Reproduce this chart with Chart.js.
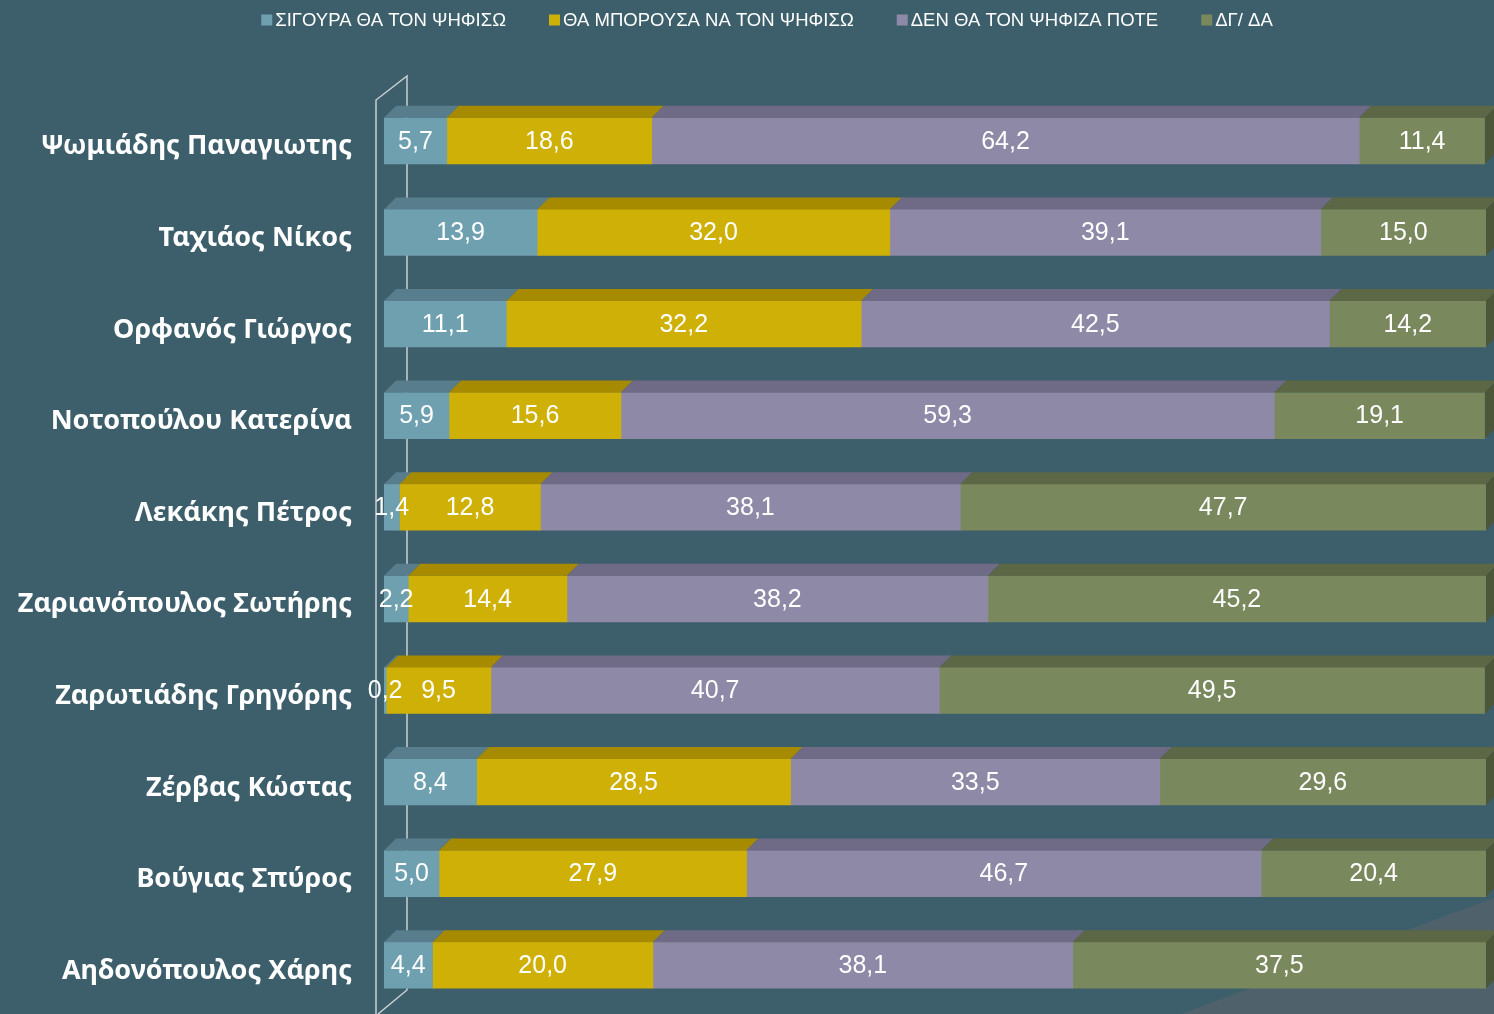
<!DOCTYPE html>
<html>
<head>
<meta charset="utf-8">
<title>Πρόθεση ψήφου</title>
<script src="https://cdn.jsdelivr.net/npm/chart.js@4.4.1/dist/chart.umd.min.js"></script>
<style>
  body { margin: 0; background: #3c5f6b; }
  canvas { display: block; }
</style>
</head>
<body>
<canvas id="myChart" width="1494" height="1014"></canvas>
<script>
// Δεδομένα
const candidates = [
    'Ψωμιάδης Παναγιωτης',
    'Ταχιάος Νίκος',
    'Ορφανός Γιώργος',
    'Νοτοπούλου Κατερίνα',
    'Λεκάκης Πέτρος',
    'Ζαριανόπουλος Σωτήρης',
    'Ζαρωτιάδης Γρηγόρης',
    'Ζέρβας Κώστας',
    'Βούγιας Σπύρος',
    'Αηδονόπουλος Χάρης'
];
const seriesNames = ['ΣΙΓΟΥΡΑ ΘΑ ΤΟΝ ΨΗΦΙΣΩ', 'ΘΑ ΜΠΟΡΟΥΣΑ ΝΑ ΤΟΝ ΨΗΦΙΣΩ', 'ΔΕΝ ΘΑ ΤΟΝ ΨΗΦΙΖΑ ΠΟΤΕ', 'ΔΓ/ ΔΑ'];
const sureVote  = [5.7, 13.9, 11.1, 5.9, 1.4, 2.2, 0.2, 8.4, 5.0, 4.4];
const mightVote = [18.6, 32.0, 32.2, 15.6, 12.8, 14.4, 9.5, 28.5, 27.9, 20.0];
const neverVote = [64.2, 39.1, 42.5, 59.3, 38.1, 38.2, 40.7, 33.5, 46.7, 38.1];
const dontKnow  = [11.4, 15.0, 14.2, 19.1, 47.7, 45.2, 49.5, 29.6, 20.4, 37.5];

// Χρώματα (μπροστινή όψη, πάνω όψη, πλάι)
const frontColors = ['#6fa0b0', '#cfb007', '#8e89a6', '#7a885e'];
const topColors   = ['#587d8c', '#a68a00', '#6f6a85', '#5b6745'];
const sideColor   = '#4c5638';
const depth = 12;

const fmt = v => v.toFixed(1).replace('.', ',');

// Plugin για το 3D εφέ, τις ετικέτες και το υπόμνημα
const bar3d = {
    id: 'bar3d',
    beforeDatasetsDraw(chart) {
        const { ctx, chartArea: a, width, height } = chart;
        ctx.save();
        // "δάπεδο" κάτω δεξιά
        ctx.fillStyle = '#4f626c';
        ctx.beginPath();
        ctx.moveTo(width - 313, height);
        ctx.lineTo(width, height - 116);
        ctx.lineTo(width, height);
        ctx.closePath();
        ctx.fill();
        // τοίχωμα άξονα
        ctx.strokeStyle = '#c9cfd2';
        ctx.lineWidth = 1.5;
        ctx.beginPath();
        ctx.moveTo(a.left - 8, height);
        ctx.lineTo(a.left - 8, a.top + 5);
        ctx.lineTo(a.left + 23, a.top - 19);
        ctx.lineTo(a.left + 23, a.bottom - 21);
        ctx.lineTo(a.left - 6, height);
        ctx.stroke();
        ctx.restore();
    },
    afterDatasetsDraw(chart) {
        const ctx = chart.ctx;
        const n = chart.data.datasets.length;
        ctx.save();
        chart.data.datasets.forEach((ds, d) => {
            chart.getDatasetMeta(d).data.forEach(bar => {
                const top = bar.y - bar.height / 2;
                const bottom = bar.y + bar.height / 2;
                const x0 = Math.min(bar.base, bar.x), x1 = Math.max(bar.base, bar.x);
                ctx.fillStyle = topColors[d];
                ctx.beginPath();
                ctx.moveTo(x0, top);
                ctx.lineTo(x0 + depth, top - depth);
                ctx.lineTo(x1 + depth, top - depth);
                ctx.lineTo(x1, top);
                ctx.closePath();
                ctx.fill();
                if (d === n - 1) {
                    ctx.fillStyle = sideColor;
                    ctx.beginPath();
                    ctx.moveTo(x1, top);
                    ctx.lineTo(x1 + depth, top - depth);
                    ctx.lineTo(x1 + depth, bottom - depth);
                    ctx.lineTo(x1, bottom);
                    ctx.closePath();
                    ctx.fill();
                }
            });
        });
        // τιμές
        ctx.fillStyle = '#ffffff';
        ctx.font = '25px "Liberation Sans", Arial, sans-serif';
        ctx.textAlign = 'center';
        ctx.textBaseline = 'middle';
        chart.data.datasets.forEach((ds, d) => {
            chart.getDatasetMeta(d).data.forEach((bar, i) => {
                ctx.fillText(fmt(ds.data[i]), (bar.base + bar.x) / 2, bar.y + 1);
            });
        });
        ctx.restore();
    },
    afterDraw(chart) {
        // υπόμνημα
        const ctx = chart.ctx;
        ctx.save();
        ctx.font = '18.5px "Liberation Sans", Arial, sans-serif';
        ctx.textBaseline = 'middle';
        ctx.textAlign = 'left';
        const box = 11, gap = 3, spacing = 43;
        const widths = chart.data.datasets.map(ds => box + gap + ctx.measureText(ds.label).width);
        const total = widths.reduce((s, w) => s + w, 0) + spacing * (widths.length - 1);
        let x = chart.width / 2 + 20 - total / 2;
        const y = 20;
        chart.data.datasets.forEach((ds, d) => {
            ctx.fillStyle = frontColors[d];
            ctx.fillRect(x, y - box / 2, box, box);
            ctx.fillStyle = '#ffffff';
            ctx.fillText(ds.label, x + box + gap, y + 1);
            x += widths[d] + spacing;
        });
        ctx.restore();
    }
};

const seriesData = [sureVote, mightVote, neverVote, dontKnow];

const ctx = document.getElementById('myChart').getContext('2d');
const myChart = new Chart(ctx, {
    type: 'bar',
    data: {
        labels: candidates,
        datasets: seriesData.map((values, d) => ({
            label: seriesNames[d],
            data: values,
            backgroundColor: frontColors[d],
            borderWidth: 0,
            barThickness: 46
        }))
    },
    options: {
        indexAxis: 'y',
        responsive: false,
        animation: false,
        layout: { padding: { top: 95, bottom: 3, right: 8, left: 0 } },
        scales: {
            x: { stacked: true, min: 0, max: 100, display: false },
            y: {
                stacked: true,
                grid: { display: false, drawTicks: false },
                border: { display: false },
                ticks: {
                    color: '#ffffff',
                    padding: 32,
                    labelOffset: 6,
                    font: { family: '"Noto Sans", "Open Sans", sans-serif', size: 27, weight: 'bold' }
                },
                afterFit: scale => {
                    scale.width = 384;
                    scale.paddingTop = 0;
                    scale.paddingBottom = 0;
                }
            }
        },
        plugins: {
            legend: { display: false },
            tooltip: { enabled: false }
        }
    },
    plugins: [bar3d]
});
</script>
</body>
</html>
